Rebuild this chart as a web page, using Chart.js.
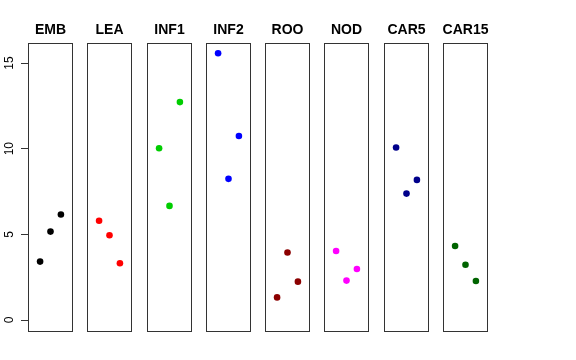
<!DOCTYPE html>
<html>
<head>
<meta charset="utf-8">
<script src="https://cdn.jsdelivr.net/npm/chart.js@4.4.0/dist/chart.umd.min.js"></script>
<style>
  body { margin: 0; background: #fff; }
  #wrap { position: relative; width: 576px; height: 360px; background: #fff; }
  #wrap canvas { position: absolute; top: 0; }
</style>
</head>
<body>
<div id="wrap"></div>
<script>
// Panels (one per tissue) and their three values, left to right
const panels = ['EMB', 'LEA', 'INF1', 'INF2', 'ROO', 'NOD', 'CAR5', 'CAR15'];
const xPos = [1, 2, 3];
const embVals = [3.41, 5.16, 6.16];
const leaVals = [5.79, 4.95, 3.31];
const inf1Vals = [10.03, 6.66, 12.72];
const inf2Vals = [15.57, 8.24, 10.74];
const rooVals = [1.32, 3.94, 2.24];
const nodVals = [4.03, 2.30, 2.98];
const car5Vals = [10.07, 7.38, 8.18];
const car15Vals = [4.32, 3.23, 2.28];
const yTicks = [0, 5, 10, 15];

const values = [embVals, leaVals, inf1Vals, inf2Vals, rooVals, nodVals, car5Vals, car15Vals];
const colors = ['#000000', '#ff0000', '#00cd00', '#0000ff', '#8b0000', '#ff00ff', '#00008b', '#006400'];

const FONT = '"Liberation Sans", Arial, Helvetica, sans-serif';

// panel frame + bold panel name centred over the plot area
const frame = {
  id: 'frame',
  afterDraw(chart, args, opts) {
    const a = chart.chartArea;
    const ctx = chart.ctx;
    ctx.save();
    ctx.strokeStyle = '#333';
    ctx.lineWidth = 1;
    ctx.strokeRect(Math.round(a.left) + 0.5, Math.round(a.top) + 0.5,
      Math.round(a.right - a.left) - 1, Math.round(a.bottom - a.top) - 1);
    ctx.fillStyle = '#000';
    ctx.font = 'bold 14px ' + FONT;
    ctx.textAlign = 'center';
    ctx.textBaseline = 'middle';
    ctx.fillText(opts.text, (a.left + a.right) / 2, 30);
    ctx.restore();
  }
};

// rotated y tick labels, placed from the y scale
const yLabels = {
  id: 'yLabels',
  afterDraw(chart) {
    const y = chart.scales.y;
    if (!y.options.display) return;
    const ctx = chart.ctx;
    ctx.save();
    ctx.fillStyle = '#000';
    ctx.font = '12px ' + FONT;
    ctx.textAlign = 'center';
    ctx.textBaseline = 'middle';
    yTicks.forEach(v => {
      ctx.save();
      ctx.translate(9.5, y.getPixelForValue(v));
      ctx.rotate(-Math.PI / 2);
      ctx.fillText(String(v), 0, 0);
      ctx.restore();
    });
    ctx.restore();
  }
};

const wrap = document.getElementById('wrap');
const axisW = 28;

panels.forEach((name, i) => {
  const first = i === 0;
  const left = Math.floor(28.7 + i * 59.23);
  const canvas = document.createElement('canvas');
  const cLeft = first ? 0 : left - 2;
  const cWidth = first ? axisW + 47 : 49;
  canvas.width = cWidth;
  canvas.height = 332;
  canvas.style.left = cLeft + 'px';
  wrap.appendChild(canvas);

  new Chart(canvas.getContext('2d'), {
    type: 'scatter',
    data: {
      datasets: [{
        data: xPos.map((x, k) => ({ x: x, y: values[i][k] })),
        backgroundColor: colors[i],
        borderColor: colors[i],
        pointRadius: 3.3,
        pointHoverRadius: 3.3,
        borderWidth: 0
      }]
    },
    options: {
      responsive: false,
      animation: false,
      events: [],
      layout: {
        autoPadding: false,
        padding: { left: first ? 0 : 2, right: 2, top: 43, bottom: 0 }
      },
      plugins: {
        legend: { display: false },
        tooltip: { enabled: false },
        title: { display: false },
        frame: { text: name }
      },
      scales: {
        x: {
          type: 'linear',
          display: false,
          min: -0.16,
          max: 4.16
        },
        y: {
          type: 'linear',
          display: first,
          min: -0.70,
          max: 16.17,
          afterBuildTicks: (scale) => {
            scale.ticks = yTicks.map(v => ({ value: v }));
          },
          afterFit: (scale) => {
            if (first) scale.width = axisW;
            scale.paddingTop = 0;
            scale.paddingBottom = 0;
          },
          border: { display: false },
          grid: {
            drawOnChartArea: false,
            drawTicks: true,
            tickLength: 7,
            color: '#333'
          },
          ticks: { display: false }
        }
      }
    },
    plugins: [frame, yLabels]
  });
});
</script>
</body>
</html>
